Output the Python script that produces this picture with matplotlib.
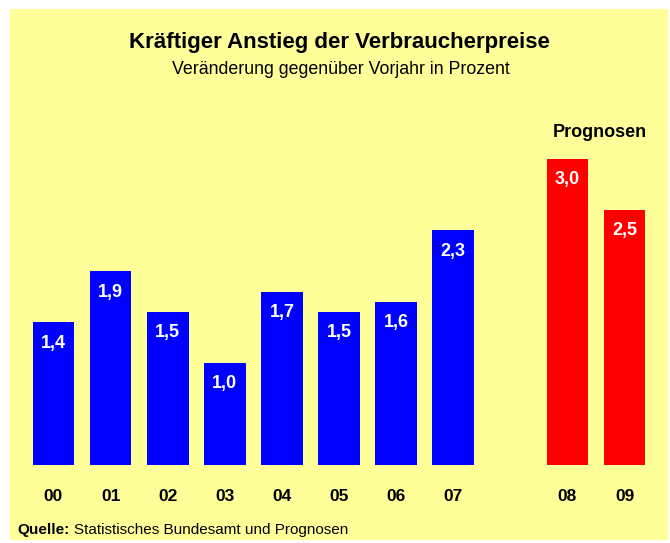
import matplotlib
matplotlib.use("Agg")
import matplotlib.pyplot as plt

# data
years = ["00", "01", "02", "03", "04", "05", "06", "07", "08", "09"]
values = [1.4, 1.9, 1.5, 1.0, 1.7, 1.5, 1.6, 2.3, 3.0, 2.5]
is_forecast = [False] * 8 + [True] * 2
positions = [0, 1, 2, 3, 4, 5, 6, 7, 9, 10]

plt.rcParams["font.family"] = ["Liberation Sans", "DejaVu Sans"]

W, H = 670, 543
fig = plt.figure(figsize=(W / 100, H / 100), dpi=100)
fig.patch.set_facecolor("white")

# yellow panel from x=10..668, y=9..540 (pixels)
ax = fig.add_axes([10 / W, (H - 540) / H, 658 / W, 531 / H])
ax.set_facecolor("#FFFF99")
for s in ax.spines.values():
    s.set_visible(False)
ax.set_xticks([])
ax.set_yticks([])

px_x = 57.1   # pixels per category
px_y = 102.0  # pixels per percent
ax.set_xlim((10 - 53.5) / px_x, (668 - 53.5) / px_x)
ax.set_ylim((465 - 540) / px_y, (465 - 9) / px_y)

colors = ["#FF0000" if f else "#0000FF" for f in is_forecast]
ax.bar(positions, values, width=0.73, color=colors, edgecolor="none")

for p, v, y in zip(positions, values, years):
    ax.annotate(f"{v:.1f}".replace(".", ","), (p, v), xytext=(0, -15), textcoords="offset points",
                ha="center", va="center", color="white", fontsize=13, fontweight="bold")
    ax.annotate(y, (p, 0), xytext=(0, -22.5), textcoords="offset points",
                ha="center", va="center", color="black", fontsize=12.5, fontweight="bold")

fig.text(339.5 / W, 1 - 48 / H, "Kräftiger Anstieg der Verbraucherpreise", ha="center",
         va="baseline", fontsize=16, fontweight="bold")
fig.text(340.5 / W, 1 - 74 / H, "Veränderung gegenüber Vorjahr in Prozent", ha="center",
         va="baseline", fontsize=12.8)
fig.text(600 / W, 1 - 137 / H, "Prognosen", ha="center", va="baseline",
         fontsize=13, fontweight="bold")
fig.text(17 / W, 1 - 534 / H, "Quelle:", ha="left", va="baseline",
         fontsize=11, fontweight="bold")
fig.text(74 / W, 1 - 534 / H, "Statistisches Bundesamt und Prognosen", ha="left",
         va="baseline", fontsize=11)

fig.savefig("out.png", dpi=100, facecolor=fig.get_facecolor())
